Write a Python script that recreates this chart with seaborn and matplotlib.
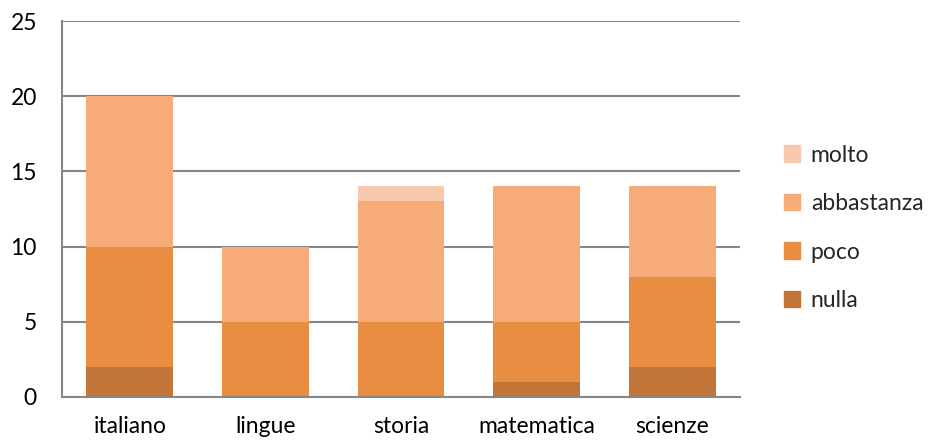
import pandas as pd
import matplotlib
matplotlib.use("Agg")
import matplotlib.pyplot as plt
import matplotlib.patches as mpatches
import seaborn as sns

subjects = ["italiano", "lingue", "storia", "matematica", "scienze"]
nulla = [2, 0, 0, 1, 2]
poco = [8, 5, 5, 4, 6]
abbastanza = [10, 5, 8, 9, 6]
molto = [0, 0, 1, 0, 0]

levels = ["nulla", "poco", "abbastanza", "molto"]
colors = {"nulla": "#C27538", "poco": "#E88D42", "abbastanza": "#F7AB78", "molto": "#F9C9AE"}

sns.set_theme(style="white")
plt.rcParams["font.family"] = ["Lato", "DejaVu Sans"]

df = pd.DataFrame({"subject": subjects, "nulla": nulla, "poco": poco,
                   "abbastanza": abbastanza, "molto": molto})

fig = plt.figure(figsize=(9.29, 4.44), dpi=100)
ax = fig.add_axes([0.0667, 0.1059, 0.7299, 0.8468])

# stacked bars: draw cumulative totals from the top level down
cum = df[levels].cumsum(axis=1)
for lvl in reversed(levels):
    sns.barplot(x=df["subject"], y=cum[lvl], color=colors[lvl], width=0.64,
                saturation=1, ax=ax, zorder=2, linewidth=0)

ax.set_ylim(0, 25)
ax.set_yticks(range(0, 26, 5))
ax.set_xlim(-0.5, 4.5)
ax.yaxis.grid(True, color="#868686", linewidth=1.5, zorder=0)
ax.set_axisbelow(True)
for s in ["top", "right"]:
    ax.spines[s].set_visible(False)
ax.spines["left"].set_color("#868686")
ax.spines["bottom"].set_color("#868686")
ax.spines["left"].set_linewidth(1.5)
ax.spines["bottom"].set_linewidth(1.5)
ax.set_xlabel("")
ax.set_ylabel("")
ax.tick_params(axis="both", labelsize=16.5, length=0, colors="black")
ax.tick_params(axis="y", pad=18)
ax.tick_params(axis="x", pad=14)

handles = [mpatches.Patch(color=colors[l], label=l) for l in reversed(levels)]
ax.legend(handles=handles, loc="center left", bbox_to_anchor=(1.035, 0.45),
          frameon=False, fontsize=16.5, handlelength=0.7, handleheight=0.7,
          labelspacing=1.2, handletextpad=0.45)

fig.savefig("out.png", dpi=100)
